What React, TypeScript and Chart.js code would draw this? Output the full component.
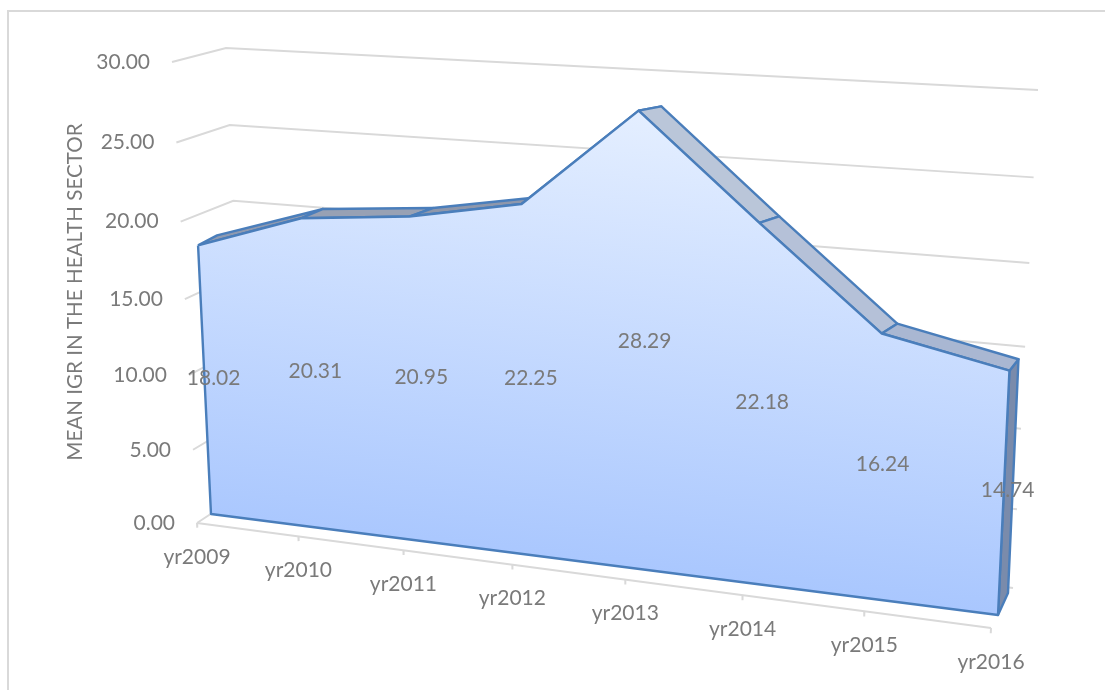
import React, { useEffect, useRef } from "react";
import { Chart, registerables } from "chart.js";

Chart.register(...registerables);

const categories = ["yr2009", "yr2010", "yr2011", "yr2012", "yr2013", "yr2014", "yr2015", "yr2016"];
const igrValues = [18.02, 20.31, 20.95, 22.25, 28.29, 22.18, 16.24, 14.74];
const valueTicks = [0, 5, 10, 15, 20, 25, 30];
const axisTitle = "MEAN IGR IN THE HEALTH SECTOR";
const ridgeColors = ["#8f9ab0", "#98a1b4", "#8e97ab", "#8e97ab", "#bac6d9", "#b5c1d8", "#a9b7d2"];

// Perspective camera: each depth plane of the 3-D box is described by where
// its corners (first category / last category, value 0 / value 30) land.
type Q = [number, number][];
const PLANE_AXIS: Q = [[197, 523], [991, 628], [1016, 106], [172, 62]];
const PLANE_FACE: Q = [[211, 514], [998, 615], [1022, 102], [189, 57]];
const PLANE_RIDGE: Q = [[230, 504], [1008, 593], [1030, 103], [208, 47]];
const PLANE_WALL: Q = [[247, 490], [1013, 588], [1038, 90], [226, 48]];
const PLANE_LABEL: Q = [[220, 510], [1002, 610], [1026, 98], [198, 53]];

const homography = (q: Q) => {
  const [[x0, y0], [x1, y1], [x2, y2], [x3, y3]] = q;
  const dx1 = x1 - x2, dx2 = x3 - x2, sx = x0 - x1 + x2 - x3;
  const dy1 = y1 - y2, dy2 = y3 - y2, sy = y0 - y1 + y2 - y3;
  const det = dx1 * dy2 - dx2 * dy1;
  const g = (sx * dy2 - dx2 * sy) / det;
  const h = (dx1 * sy - sx * dy1) / det;
  const a = x1 - x0 + g * x1, b = x3 - x0 + h * x3;
  const d = y1 - y0 + g * y1, e = y3 - y0 + h * y3;
  return (i: number, v: number) => {
    const u = i / (categories.length - 1), w = v / 30;
    const den = g * u + h * w + 1;
    return { x: (a * u + b * w + x0) / den, y: (d * u + e * w + y0) / den };
  };
};

const axisP = homography(PLANE_AXIS);
const faceP = homography(PLANE_FACE);
const ridgeP = homography(PLANE_RIDGE);
const wallP = homography(PLANE_WALL);
const labelP = homography(PLANE_LABEL);
const last = categories.length - 1;
const GAP = { x: NaN, y: NaN };

const gridPts = valueTicks.flatMap((v) => [axisP(0, v), wallP(0, v), wallP(last, v), GAP]);
const axisPts = [axisP(0, 0), axisP(last, 0)];
const tickPts = categories.flatMap((_, i) => [axisP(i, 0), axisP(i, -0.32), GAP]);
const facePts = [...igrValues.map((v, i) => faceP(i, v)), faceP(last, 0), faceP(0, 0), faceP(0, igrValues[0])];
const sidePts = [faceP(last, igrValues[last]), ridgeP(last, igrValues[last]), ridgeP(last, 0), faceP(last, 0), faceP(last, igrValues[last])];

const GRID = "#d9d9d9";
const EDGE = "#4a7ebb";
const TEXT = "#7a7a7a";
const FONT = "Lato";
const EDGE_W = 2.4;

export default function App() {
  const ref = useRef<HTMLCanvasElement>(null);
  useEffect(() => {
    document.body.style.margin = "0";
    const canvas = ref.current!;
    const ctx = canvas.getContext("2d")!;
    const grad = ctx.createLinearGradient(640, 105, 582, 625);
    grad.addColorStop(0, "#e5efff");
    grad.addColorStop(1, "#a2c2fe");

    const line = (data: any[], color: string, width: number, extra: any = {}) => ({
      data, borderColor: color, borderWidth: width, showLine: true, pointRadius: 0, fill: false, tension: 0, ...extra,
    });
    const ridges = igrValues.slice(0, -1).map((v, i) => {
      const n = igrValues[i + 1];
      return line(
        [faceP(i, v), ridgeP(i, v), ridgeP(i + 1, n), faceP(i + 1, n), faceP(i, v)],
        EDGE, EDGE_W, { fill: "shape", backgroundColor: ridgeColors[i], borderJoinStyle: "round" },
      );
    });
    // listed back to front
    const layers: any[] = [
      line(gridPts, GRID, 2),
      line(axisPts, GRID, 2),
      line(tickPts, GRID, 2),
      line(sidePts, EDGE, EDGE_W, { fill: "shape", backgroundColor: "#7a8bab", borderJoinStyle: "round" }),
      ...ridges,
      line(facePts, EDGE, EDGE_W, { fill: "shape", backgroundColor: grad, borderJoinStyle: "round" }),
    ];
    layers.forEach((d, i) => (d.order = layers.length - i));

    const textPlugin = {
      id: "boxText",
      afterDatasetsDraw(c: any) {
        const g = c.ctx, sx = c.scales.x, sy = c.scales.y;
        const put = (p: { x: number; y: number }, s: string, align: CanvasTextAlign, dx = 0, dy = 0) => {
          g.textAlign = align;
          g.fillText(s, sx.getPixelForValue(p.x) + dx, sy.getPixelForValue(p.y) + dy);
        };
        g.save();
        g.fillStyle = TEXT;
        g.textBaseline = "middle";
        g.font = `21px ${FONT}`;
        valueTicks.forEach((v) => put(axisP(0, v), v.toFixed(2), "right", -22, 0));
        categories.forEach((s, i) => put(axisP(i, 0), s, "center", 0, 34));
        igrValues.forEach((v, i) => put(labelP(i, v / 2), v.toFixed(2), "center"));
        g.translate(75, 292);
        g.rotate(-Math.PI / 2);
        g.font = `20.6px ${FONT}`;
        g.textAlign = "center";
        g.fillText(axisTitle, 0, 0);
        g.restore();
      },
    };

    const chart = new Chart(canvas, {
      type: "scatter",
      data: { datasets: layers },
      options: {
        animation: false,
        responsive: false,
        layout: { padding: 0 },
        events: [],
        plugins: { legend: { display: false }, tooltip: { enabled: false } },
        scales: {
          x: { type: "linear", min: 0, max: 1105, display: false },
          y: { type: "linear", min: 0, max: 690, reverse: true, display: false },
        },
      },
      plugins: [textPlugin],
    } as any);
    return () => chart.destroy();
  }, []);

  return (
    <div style={{ position: "absolute", left: 0, top: 0, width: 1105, height: 690, overflow: "hidden", background: "#fff" }}>
      <div style={{ position: "absolute", left: 7, top: 10, width: 1098, height: 680, borderTop: "2px solid #d9d9d9", borderLeft: "2px solid #d9d9d9" }} />
      <canvas ref={ref} width={1105} height={690} style={{ position: "absolute", left: 0, top: 0, display: "block" }} />
    </div>
  );
}
